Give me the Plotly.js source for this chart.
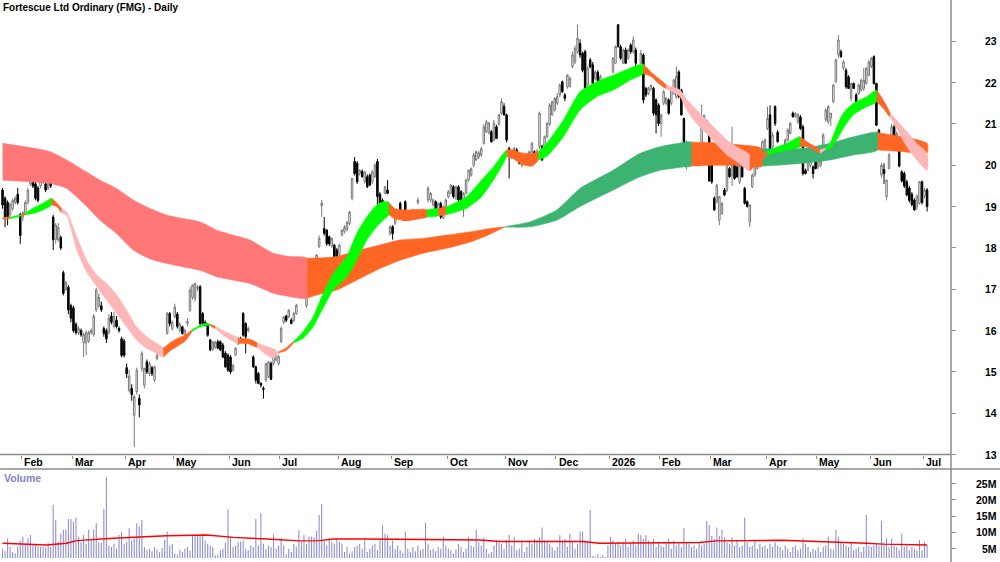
<!DOCTYPE html>
<html><head><meta charset="utf-8">
<script src="https://cdn.plot.ly/plotly-3.0.1.min.js"></script>
<style>html,body{margin:0;padding:0;background:#fff}#chart{width:1000px;height:562px}</style>
</head><body><div id="chart"></div>
<script>
// ---- month axis (trading-day index of first session of each month) ----
const monthLabels = ["Feb","Mar","Apr","May","Jun","Jul","Aug","Sep","Oct","Nov","Dec","2026","Feb","Mar","Apr","May","Jun","Jul"];
const monthStartIdx = [8,28,49,68,90,110,133,154,176,199,219,240,260,280,302,322,343,364];
const priceTicks = [13,14,15,16,17,18,19,20,21,22,23];
const volTicks = [5,10,15,20,25];
const volTickText = ["5M","10M","15M","20M","25M"];

// ---- daily candles, 21 Jan 2025 .. 2 Jul 2026 (one line per month) ----
const open = [
19.40,19.20,19.10,18.80,18.95,19.10,19.30,18.80,
18.75,18.85,19.10,19.55,19.70,19.55,19.45,19.50,19.60,19.55,19.45,19.96,18.75,18.20,18.20,18.25,17.40,17.00,17.05,16.60,
16.55,16.15,15.95,16.00,15.70,15.70,15.75,15.95,15.90,16.50,16.60,16.60,16.05,16.00,15.95,16.35,16.10,16.25,16.05,15.80,15.75,
15.10,14.55,14.60,13.95,14.52,14.36,15.08,14.68,15.24,14.96,15.10,14.80,15.32,15.45,15.49,15.57,15.93,16.41,16.05,
16.33,16.40,16.00,16.09,15.85,16.18,16.49,16.80,16.78,17.02,17.06,16.41,16.20,16.13,15.77,15.55,15.60,15.73,15.73,15.65,15.45,15.40,
15.36,15.05,15.41,15.68,15.80,16.41,16.17,16.00,15.70,15.36,15.12,14.96,14.72,14.60,14.80,14.88,15.20,15.20,15.29,15.20,
15.73,16.20,16.35,16.33,16.25,16.25,16.41,16.95,17.02,16.98,16.60,16.90,16.98,17.18,17.46,18.03,19.02,18.47,18.43,18.27,18.05,18.07,17.95,
17.85,18.31,18.40,18.45,18.59,19.20,20.09,20.05,19.80,19.85,19.60,19.72,19.76,19.60,19.72,20.09,19.30,19.15,19.32,19.40,18.35,
18.51,18.60,18.75,19.08,18.67,19.12,18.83,18.71,18.83,18.79,19.10,18.79,18.75,18.75,19.16,19.16,19.04,19.12,18.92,19.08,18.72,19.00,
19.24,19.32,19.48,19.20,19.48,19.36,18.96,19.32,19.64,19.76,20.00,20.13,20.20,20.25,20.53,20.81,20.78,20.81,20.61,20.93,21.00,21.26,21.42,
21.22,20.41,20.20,20.25,20.37,20.20,20.00,20.21,20.09,20.13,20.13,20.33,20.17,20.45,20.45,20.37,20.69,21.00,21.22,21.34,
21.50,21.70,22.02,21.70,21.90,21.90,22.39,22.50,22.75,22.95,22.71,22.75,21.95,22.55,22.43,22.10,22.25,21.90,21.85,22.06,21.90,
22.05,22.26,22.47,23.40,22.87,22.47,22.79,22.59,22.91,22.75,22.79,22.26,22.47,22.67,21.86,21.74,21.86,21.86,21.58,21.46,
21.01,21.50,21.50,21.58,21.50,21.74,21.66,22.26,21.82,21.13,19.96,20.45,20.13,20.37,20.33,20.41,20.53,20.89,20.93,20.85,
20.29,19.20,19.12,18.67,18.83,19.40,19.40,19.92,19.76,20.00,19.96,19.60,20.00,19.44,19.12,18.63,19.48,19.76,19.92,20.00,20.20,20.33,
20.89,21.22,20.45,21.42,20.80,20.05,20.20,20.33,20.61,20.77,21.26,21.18,21.05,21.17,20.93,19.88,19.88,20.00,19.96,20.09,
19.96,20.00,20.13,21.10,21.05,21.14,21.54,22.02,22.67,22.75,22.35,22.30,22.14,21.62,21.98,21.70,21.74,21.82,21.86,21.98,22.18,
22.39,22.63,21.98,20.85,19.76,19.90,19.24,19.92,20.69,20.93,20.55,20.45,19.84,19.80,19.60,19.45,19.30,19.16,19.00,19.08,19.60,
19.25,19.40];
const high = [
19.45,19.25,19.15,19.10,19.20,19.25,19.45,18.85,
18.90,19.15,19.45,19.93,19.75,19.60,19.50,19.80,19.95,19.60,19.65,20.00,18.80,18.60,18.60,18.30,17.45,17.20,17.10,16.65,
16.60,16.20,16.10,16.05,15.95,16.00,16.00,16.05,16.40,17.03,16.90,16.70,16.10,16.05,16.40,16.45,16.45,16.35,16.10,15.85,15.80,
15.20,15.05,14.70,14.45,15.10,14.45,15.50,15.10,15.30,15.25,15.15,15.15,15.45,15.60,15.60,15.60,16.45,16.45,16.25,
16.65,16.45,16.20,16.12,16.05,16.30,17.05,17.12,17.16,17.10,17.10,16.45,16.25,16.18,15.80,15.75,15.75,15.78,15.76,15.70,15.50,15.45,
15.40,15.20,15.60,15.85,15.85,16.45,16.20,16.10,15.75,15.40,15.15,15.00,14.75,14.65,15.22,15.25,15.25,15.55,15.45,15.40,
16.10,16.35,16.38,16.52,16.30,16.45,16.65,17.20,17.06,17.02,16.90,17.05,17.20,17.40,17.85,18.30,19.16,18.75,18.45,18.30,18.25,18.10,18.00,
18.10,18.45,18.55,18.65,18.90,19.70,20.20,20.10,19.90,19.90,19.85,19.78,19.80,19.88,20.05,20.15,19.35,19.20,19.50,19.64,18.55,
18.55,18.85,18.85,19.12,18.90,19.15,18.85,18.90,18.95,18.90,19.22,18.92,18.85,18.85,19.50,19.35,19.20,19.15,19.10,19.12,19.03,19.20,
19.40,19.55,19.52,19.50,19.52,19.40,19.35,19.68,19.90,19.95,20.30,20.35,20.35,20.45,21.00,21.10,21.05,20.85,21.10,20.98,21.25,21.62,21.50,
21.25,20.45,20.35,20.45,20.42,20.25,20.20,20.25,20.30,20.35,20.57,20.36,20.40,21.30,20.50,20.72,21.05,21.50,21.55,21.65,
21.75,21.98,22.05,21.75,22.20,22.15,22.75,22.90,23.40,23.05,22.75,22.80,22.40,22.60,22.50,22.30,22.30,22.20,22.10,22.10,22.15,
22.10,22.62,22.90,23.42,22.92,22.83,22.85,22.83,22.95,23.12,22.85,22.42,22.79,22.71,21.90,21.90,21.95,21.90,21.62,21.50,
21.25,21.82,21.65,21.62,21.85,22.10,22.39,22.30,21.85,21.15,20.60,20.50,20.40,20.40,20.38,20.45,21.46,21.22,21.10,20.90,
20.33,19.25,19.55,19.26,19.10,19.45,20.12,19.96,20.93,20.05,20.00,20.02,20.05,19.48,19.15,19.04,19.80,20.05,20.20,20.40,20.60,20.65,
21.42,21.45,20.80,21.45,20.85,20.35,20.48,20.65,20.90,21.05,21.30,21.28,21.26,21.22,20.98,19.92,20.10,20.15,20.00,20.12,
20.15,20.12,20.78,21.38,21.45,21.25,21.97,22.58,23.15,22.80,22.55,22.35,22.18,22.00,22.00,21.75,21.98,22.10,22.35,22.38,22.55,
22.62,22.66,22.00,20.88,20.05,20.05,19.66,20.30,21.00,20.98,20.82,20.50,19.88,19.85,19.65,19.50,19.35,19.20,19.30,19.62,19.63,
19.45,19.45];
const low = [
18.95,18.50,18.55,18.75,18.90,19.05,19.05,18.10,
18.65,18.80,19.05,19.50,19.45,19.15,19.10,19.45,19.55,19.35,19.40,19.45,17.95,18.10,18.15,17.95,16.85,16.95,16.40,16.20,
15.95,15.90,15.90,15.85,15.36,15.40,15.70,15.90,15.85,16.45,16.55,16.45,15.85,15.70,15.90,16.15,16.05,16.05,15.95,15.35,15.35,
14.85,14.50,14.30,13.18,14.45,13.90,15.00,14.60,14.95,14.90,14.90,14.75,15.28,15.40,15.45,15.40,15.90,16.10,16.00,
16.30,16.05,15.95,15.90,15.80,16.10,16.45,16.75,16.70,16.95,16.10,16.12,16.10,15.85,15.50,15.50,15.55,15.55,15.50,15.33,15.10,15.00,
14.95,15.00,15.38,15.65,15.70,15.85,15.45,15.95,15.65,15.10,14.72,14.70,14.62,14.35,14.75,14.85,14.80,15.15,15.25,15.15,
15.70,16.15,16.20,16.30,16.15,16.20,16.38,16.90,16.85,16.80,16.55,16.85,16.95,17.15,17.42,18.00,18.75,18.30,18.05,18.05,18.00,17.75,17.70,
17.80,18.28,18.35,18.40,18.55,19.15,19.75,19.55,19.75,19.70,19.55,19.45,19.50,19.55,19.70,19.00,19.05,18.95,19.30,19.30,18.30,
18.20,18.55,18.70,18.80,18.65,18.65,18.65,18.70,18.80,18.75,19.05,18.75,18.72,18.72,19.10,19.10,19.00,18.90,18.90,18.70,18.70,18.95,
19.20,19.30,19.20,19.15,19.10,19.10,18.75,19.30,19.60,19.72,19.95,20.10,20.15,20.20,20.50,20.78,20.75,20.55,20.58,20.65,20.95,21.22,21.20,
20.55,19.68,20.15,20.20,20.15,20.02,19.95,20.05,20.05,20.10,20.10,20.12,20.15,20.40,20.10,20.35,20.65,20.95,21.20,21.30,
21.45,21.65,21.75,21.55,21.85,21.88,22.35,22.45,22.70,22.60,22.25,21.80,21.90,22.35,21.95,22.05,22.00,21.85,21.80,21.82,21.85,
21.95,22.22,22.45,22.85,22.55,22.45,22.45,22.55,22.70,22.70,22.40,22.20,22.45,21.50,21.65,21.70,21.80,21.20,20.77,20.95,
20.69,21.45,21.45,21.22,21.45,21.70,21.60,21.62,21.20,19.96,19.90,20.00,20.10,20.00,20.00,19.98,20.50,20.85,20.90,19.60,
19.55,18.90,19.08,18.55,18.80,19.25,19.35,19.70,19.50,19.65,19.70,19.55,19.70,19.05,18.98,18.51,19.45,19.72,19.90,19.95,20.15,20.30,
20.85,20.25,20.40,20.95,20.55,20.00,20.15,20.30,20.58,20.75,21.15,21.15,21.00,20.85,19.75,19.78,19.85,19.95,19.68,19.90,
19.90,19.95,20.10,21.05,21.00,20.95,21.50,22.00,22.60,22.60,22.30,21.85,21.85,21.55,21.85,21.50,21.70,21.78,21.80,21.95,22.15,
22.35,21.95,20.95,20.37,19.70,19.55,19.15,19.90,20.65,20.50,20.50,19.95,19.58,19.45,19.25,19.10,19.00,18.90,18.92,19.05,19.05,
19.20,18.88];
const close = [
19.04,18.75,18.75,19.05,19.15,19.20,19.10,18.30,
18.85,19.10,19.40,19.76,19.50,19.20,19.15,19.75,19.72,19.40,19.60,19.50,18.20,18.55,18.50,18.00,16.90,17.15,16.50,16.30,
16.00,15.95,16.05,15.90,15.90,15.95,15.95,16.00,16.35,16.98,16.80,16.50,15.93,15.80,16.30,16.20,16.35,16.10,16.00,15.40,15.40,
14.95,14.90,14.45,14.40,15.04,14.20,15.45,15.08,15.00,15.20,14.96,15.12,15.40,15.55,15.57,15.45,16.41,16.17,16.20,
16.57,16.10,16.15,15.93,16.00,16.22,16.98,17.10,17.14,17.05,16.17,16.17,16.12,15.89,15.53,15.72,15.72,15.57,15.53,15.36,15.12,15.04,
15.00,15.15,15.57,15.80,15.72,15.89,15.85,16.05,15.73,15.12,14.80,14.72,14.68,14.58,15.20,15.24,14.82,15.53,15.45,15.37,
16.05,16.33,16.25,16.49,16.17,16.41,16.61,17.15,16.88,16.85,16.85,17.00,17.18,17.38,17.83,18.23,19.08,18.35,18.10,18.10,18.23,17.79,17.75,
18.07,18.43,18.50,18.62,18.87,19.68,19.80,19.60,19.88,19.72,19.84,19.48,19.52,19.84,20.00,19.24,19.08,19.04,19.48,19.32,18.51,
18.35,18.83,18.83,18.83,18.87,18.67,18.67,18.87,18.92,18.87,19.16,18.92,18.83,18.83,19.44,19.32,19.16,18.92,19.08,18.75,19.00,19.16,
19.36,19.52,19.24,19.48,19.16,19.16,19.32,19.64,19.88,19.92,20.25,20.33,20.30,20.40,20.93,21.05,21.02,20.57,21.02,20.65,21.22,21.54,21.22,
20.61,20.25,20.30,20.41,20.17,20.05,20.17,20.09,20.25,20.33,20.53,20.17,20.33,21.26,20.13,20.69,21.01,21.46,21.54,21.62,
21.66,21.94,21.78,21.62,22.18,22.10,22.67,22.83,23.07,22.67,22.30,21.86,22.35,22.38,21.98,22.26,22.05,22.15,22.05,21.86,22.10,
22.02,22.59,22.87,22.87,22.59,22.79,22.47,22.79,22.75,23.03,22.47,22.39,22.71,21.58,21.70,21.86,21.94,21.26,21.22,21.01,
21.22,21.78,21.62,21.26,21.82,22.06,22.15,21.66,21.22,20.25,20.53,20.05,20.37,20.01,20.05,20.00,21.17,21.21,21.09,19.62,
19.60,18.92,19.52,19.24,19.08,19.28,20.09,19.72,20.00,19.68,19.72,20.00,19.72,19.08,19.00,19.04,19.76,20.04,20.17,20.37,20.57,20.61,
21.13,20.35,20.73,21.01,20.57,20.33,20.45,20.61,20.85,21.01,21.18,21.26,21.22,20.89,19.80,19.80,20.09,20.13,19.80,19.92,
20.13,20.09,20.73,21.34,21.42,21.26,21.94,22.55,23.03,22.63,22.50,21.90,21.86,21.98,21.86,21.54,21.94,22.06,22.06,22.35,22.50,
22.59,21.98,20.97,20.61,20.00,19.80,19.64,20.25,20.93,20.53,20.77,19.98,19.62,19.50,19.28,19.15,19.05,18.92,19.25,19.60,19.10,
19.40,19.00];
// daily volume, millions of shares
const volume = [
5.0,4.2,8.2,5.5,4.0,3.6,5.8,7.5,
8.7,6.5,8.2,9.2,6.0,6.2,5.8,5.5,5.6,5.4,6.8,5.5,18.5,13.8,7.2,9.7,10.8,10.8,14.1,14.1,
13.3,14.6,8.7,7.0,9.2,6.5,10.8,7.5,10.8,12.8,7.0,6.8,17.2,27.0,6.0,5.5,6.5,5.0,9.2,10.2,6.5,
7.0,11.3,7.5,8.0,12.8,11.8,13.8,5.5,4.5,5.0,4.2,5.5,4.8,4.0,5.2,7.7,10.3,6.0,6.5,
3.5,3.2,4.8,4.0,5.0,5.5,4.5,9.2,9.2,9.0,9.2,9.7,7.5,6.5,6.0,5.5,3.0,3.2,4.5,5.0,6.8,17.1,
8.7,5.5,6.0,7.0,7.2,7.5,5.0,4.5,6.0,5.5,14.1,6.0,15.9,6.5,5.0,6.0,5.5,9.4,5.0,6.0,
8.2,6.0,3.2,5.0,4.0,6.5,5.5,10.6,7.0,9.2,6.5,8.7,8.7,8.5,10.5,15.4,18.7,7.5,6.0,8.4,7.0,6.5,8.2,
7.0,6.5,4.0,5.5,3.5,4.2,5.5,6.0,6.5,5.0,7.5,4.0,5.0,6.0,6.5,4.5,8.0,12.1,9.7,9.2,6.0,
7.5,5.0,6.0,4.5,3.8,10.3,5.0,4.0,5.5,4.2,6.0,4.5,5.0,13.0,6.5,4.5,5.0,4.2,5.5,5.0,8.7,6.0,
5.0,4.5,3.5,4.8,6.5,5.5,4.0,5.0,8.7,6.0,5.5,10.8,7.0,6.0,8.4,5.0,3.5,4.0,6.0,7.5,7.0,6.5,5.0,
7.7,9.2,6.0,8.5,4.5,5.0,7.0,4.0,5.5,7.5,6.5,8.0,7.5,8.5,11.5,7.5,7.0,6.5,5.5,4.5,
5.5,9.2,7.5,8.0,5.5,9.7,7.0,5.0,6.5,10.3,10.3,7.5,7.0,16.9,2.8,2.5,3.2,2.6,3.0,2.4,6.0,
8.7,7.5,6.5,7.0,6.0,7.0,8.0,5.5,6.5,7.5,6.0,9.7,9.2,8.0,9.2,7.5,6.5,8.0,5.5,7.0,
6.0,5.5,6.5,8.0,5.0,7.5,6.0,6.5,5.5,11.3,7.0,6.5,5.5,6.0,5.0,7.0,6.0,6.5,13.5,12.3,
9.0,8.0,11.5,9.0,10.8,8.5,7.0,6.5,8.5,6.0,7.5,5.5,6.0,14.5,7.0,5.5,6.0,7.5,5.0,6.5,5.5,6.0,
5.0,6.5,5.5,7.0,6.0,5.5,4.5,6.0,5.0,4.0,5.5,6.0,4.5,5.0,8.2,6.5,5.5,4.0,5.0,4.5,
5.5,4.0,5.5,6.0,8.7,5.0,4.5,10.8,8.7,7.0,6.5,6.0,5.5,7.0,4.5,5.0,5.5,4.0,5.5,15.4,6.0,
5.5,6.0,6.5,6.0,13.5,7.0,8.2,5.5,8.0,6.0,5.5,4.5,9.7,5.5,6.0,4.5,5.5,5.0,4.5,7.7,4.5,
7.0,6.0];
// volume moving average
const volMAIdx = [0,17.4,25.3,29.3,43.7,54.3,64.8,80.6,91.1,104.3,117.4,125.3,130.6,143.7,163.5,176.6,188.5,196.4,216,229.1,235.7,275.2,281.8,301.5,308.1,321.3,334.4,341,347.6,365];
const volMAVal = [6.7,6.15,6.7,7.5,8.2,8.7,9.0,9.2,8.5,8.0,7.4,7.5,8.0,8.0,7.9,7.7,7.7,7.2,7.2,7.2,6.7,6.9,7.4,7.7,7.6,7.2,7.0,6.7,6.4,6.15];

// ---- short-term moving-average ribbon (upper / lower edge, trend of following stretch) ----
const fastIdx = [0,3,7.5,9,12,16,19.4,21.5,23.3,25.3,29.3,33.2,37.2,41.1,45.1,49,52.9,56.9,60.8,63.5,66,69,72,74.7,77,80,82,84,88,93,97,100.5,104,107,108.8,112,114.8,118.6,122.6,126.6,130.6,135.9,139.8,143.8,147.7,150.3,152.5,155,160,164,167.5,172,175,177,183.2,188.5,193.8,199,201,205,209,211.5,214.8,221.4,228,234.6,241.1,247.7,253,256,259,262,265,267.5,270,274,278,282,286,289.8,295,298,301.7,305,309.6,314.8,318,322.7,325,326.7,329.3,331.9,335.9,341.2,345.1,347.7,350.4,353,357,360.9,365];
const fastTop = [18.73,18.74,18.80,18.84,18.96,19.08,19.20,19.08,18.95,18.87,18.27,17.70,17.34,17.14,16.86,16.49,16.09,15.85,15.69,15.57,15.70,15.81,15.88,16.01,16.10,16.17,16.15,16.10,15.97,15.81,15.80,15.70,15.62,15.55,15.48,15.58,15.73,15.97,16.33,16.90,17.38,17.79,18.35,18.75,19.04,19.12,19.10,18.95,18.92,18.93,18.92,18.95,18.98,19.04,19.24,19.60,19.96,20.37,20.38,20.30,20.28,20.33,20.53,21.09,21.78,22.02,22.18,22.35,22.45,22.26,22.10,21.94,21.88,21.82,21.60,21.34,21.09,20.85,20.61,20.45,20.25,20.25,20.33,20.42,20.53,20.69,20.55,20.37,20.41,20.53,20.93,21.26,21.50,21.66,21.82,21.58,21.26,21.09,20.81,20.53,20.29];
const fastBot = [18.70,18.71,18.78,18.80,18.83,18.92,19.04,19.00,18.85,18.79,17.95,17.42,17.06,16.74,16.41,16.09,15.77,15.57,15.45,15.36,15.50,15.62,15.74,15.97,16.06,16.12,16.12,16.05,15.85,15.69,15.68,15.60,15.42,15.33,15.46,15.52,15.70,15.81,16.09,16.55,16.98,17.30,17.70,18.19,18.51,18.67,18.80,18.70,18.66,18.70,18.75,18.78,18.80,18.83,18.96,19.20,19.64,20.21,20.18,20.02,19.98,20.13,20.21,20.69,21.34,21.66,21.82,22.06,22.22,22.15,21.98,21.86,21.76,21.66,21.35,21.01,20.77,20.50,20.25,20.09,19.86,20.05,20.25,20.30,20.37,20.45,20.45,20.29,20.39,20.41,20.61,20.89,21.22,21.42,21.54,21.38,21.17,20.89,20.45,20.13,19.88];
const fastTrend = ["mx","up","mx","up","up","up","mx","mx","dn","dn","dn","dn","dn","dn","dn","dn","dn","dn","dn","mx","mx","mx","mx","up","up","up","mx","dn","dn","mx","mx","dn","dn","dn","mx","mx","up","up","up","up","up","up","up","up","up","up","mx","mx","mx","mx","up","mx","up","up","up","up","up","mx","mx","mx","mx","up","up","up","up","up","up","up","mx","mx","mx","dn","dn","dn","dn","dn","dn","dn","dn","dn","mx","mx","up","up","up","mx","mx","dn","up","up","up","up","up","up","mx","mx","dn","dn","dn","dn","dn"];

// ---- long-term moving-average ribbon ----
const slowIdx = [0,18.7,25.3,32,38.5,45,51.6,58,65,71.3,78,84.6,91,97.7,107,113.5,120.3,126.6,131.9,141.1,149,156.9,166.1,175.3,185.9,192.4,198.4,208.2,218.8,228,241.1,251.7,259.6,268.8,272,280.5,290,300,316,326.7,336,345.5,355.6,365];
const slowTop = [20.53,20.33,20.13,19.88,19.64,19.44,19.16,18.96,18.79,18.71,18.63,18.43,18.31,18.19,17.87,17.79,17.75,17.76,17.79,17.95,18.07,18.19,18.23,18.31,18.40,18.47,18.51,18.63,18.92,19.44,19.88,20.29,20.45,20.55,20.56,20.55,20.50,20.40,20.41,20.53,20.69,20.79,20.69,20.53];
const slowBot = [19.64,19.56,19.44,19.08,18.67,18.35,17.95,17.74,17.62,17.54,17.46,17.30,17.22,17.14,16.90,16.82,16.79,16.90,16.98,17.26,17.50,17.70,17.87,17.99,18.17,18.33,18.51,18.51,18.67,19.00,19.40,19.72,19.88,19.96,19.98,20.00,20.00,19.98,20.05,20.13,20.25,20.37,20.33,20.29];
const slowTrend = ["dn","dn","dn","dn","dn","dn","dn","dn","dn","dn","dn","dn","dn","dn","dn","dn","mx","mx","mx","mx","mx","mx","mx","mx","mx","mx","up","up","up","up","up","up","up","up","mx","mx","mx","up","up","up","up","mx","mx","mx"];

// ---------------- drawing ----------------
const FONT = "Liberation Sans, Arial, Helvetica, sans-serif";
const PAL = {
  slow: {dn:"#FF7777", mx:"#FF6624", up:"#3CB371"},
  fast: {dn:"#FFB6B6", mx:"#FF6624", up:"#00FF00"}
};
function ribbon(xs, top, bot, trend, pal){
  const out = []; let s = 0;
  for (let k = 1; k < xs.length; k++){
    if (k === xs.length - 1 || trend[k] !== trend[s]){
      const px = [], py = [];
      for (let j = s; j <= k; j++){ px.push(xs[j]); py.push(top[j]); }
      for (let j = k; j >= s; j--){ px.push(xs[j]); py.push(bot[j]); }
      const c = pal[trend[s]];
      out.push({type:"scatter", mode:"lines", x:px, y:py, fill:"toself", fillcolor:c,
        line:{width:0.6, color:c, shape:"spline", smoothing:0.6}, hoverinfo:"skip", showlegend:false, xaxis:"x", yaxis:"y"});
      s = k;
    }
  }
  return out;
}
const idx = open.map((_, i) => i);
const traces = [];
traces.push(...ribbon(slowIdx, slowTop, slowBot, slowTrend, PAL.slow));
traces.push(...ribbon(fastIdx, fastTop, fastBot, fastTrend, PAL.fast));
traces.push({type:"bar", x:idx, y:volume, xaxis:"x", yaxis:"y2", width:0.42,
  marker:{color:"#8C8CD2", line:{width:0}}, hoverinfo:"skip", showlegend:false});
traces.push({type:"scatter", mode:"lines", x:volMAIdx, y:volMAVal, xaxis:"x", yaxis:"y2",
  line:{color:"#FF0000", width:1.4}, hoverinfo:"skip", showlegend:false});
traces.push({type:"candlestick", x:idx, open:open, high:high, low:low, close:close,
  xaxis:"x", yaxis:"y", whiskerwidth:0,
  increasing:{line:{color:"#7A7A7A", width:1}, fillcolor:"#FFFFFF"},
  decreasing:{line:{color:"#000000", width:1}, fillcolor:"#000000"},
  hoverinfo:"skip", showlegend:false});

const W = 1000, H = 562, PR = 951;          // plot right edge in px
const py = v => (H - v) / H;                 // pixel row -> paper y
const px = v => v / PR;                      // pixel col -> paper x
const annotations = [];
annotations.push({text:"<b>Fortescue Ltd Ordinary (FMG) - Daily</b>", xref:"paper", yref:"paper",
  x:px(1), y:py(8), xanchor:"left", yanchor:"middle", showarrow:false,
  font:{family:FONT, size:10, color:"#000"}});
annotations.push({text:"<b>Volume</b>", xref:"paper", yref:"paper", x:px(1.5), y:py(478),
  xanchor:"left", yanchor:"middle", showarrow:false, font:{family:FONT, size:10.5, color:"#8484C6"}});
monthLabels.forEach((m, i) => annotations.push({text:"<b>"+m+"</b>", xref:"x", yref:"paper",
  x:monthStartIdx[i] - 0.5 + 0.2, y:py(462), xanchor:"left", yanchor:"middle", showarrow:false,
  font:{family:FONT, size:10.5, color:"#000"}}));
priceTicks.forEach(v => annotations.push({text:"<b>"+v+"</b>", xref:"paper", yref:"y",
  x:px(999), y:v, xanchor:"right", yanchor:"middle", showarrow:false,
  font:{family:FONT, size:10.5, color:"#000"}}));
volTicks.forEach((v, i) => annotations.push({text:"<b>"+volTickText[i]+"</b>", xref:"paper", yref:"y2",
  x:px(999), y:v, xanchor:"right", yanchor:"middle", showarrow:false,
  font:{family:FONT, size:10.5, color:"#000"}}));

const shapes = [
  {type:"line", xref:"paper", yref:"paper", x0:0, x1:1, y0:py(454.5), y1:py(454.5), line:{color:"#8C8C8C", width:1.5}},
  {type:"line", xref:"paper", yref:"paper", x0:0, x1:px(1000), y0:py(469), y1:py(469), line:{color:"#8C8C8C", width:1.5}},
  {type:"line", xref:"paper", yref:"paper", x0:1, x1:1, y0:0, y1:1, line:{color:"#8C8C8C", width:1.5}}
];

const layout = {
  width:W, height:H, margin:{l:0, r:W-PR, t:0, b:0},
  paper_bgcolor:"#fff", plot_bgcolor:"#fff", showlegend:false, dragmode:false,
  font:{family:FONT, size:10, color:"#000"},
  boxgap:0.15,
  xaxis:{range:[-1, PR/2.533 - 1], showgrid:false, zeroline:false, showticklabels:false,
    tickmode:"array", tickvals:monthStartIdx.map(v => v - 0.5), ticks:"outside", ticklen:3,
    tickcolor:"#8C8C8C", tickwidth:1, anchor:"y", rangeslider:{visible:false}, fixedrange:true},
  yaxis:{domain:[py(454.5), 1], range:[13, 24], side:"right", showgrid:false, zeroline:false,
    showticklabels:false, tickmode:"array", tickvals:priceTicks, ticks:"outside", ticklen:4,
    tickcolor:"#8C8C8C", showline:false, fixedrange:true},
  yaxis2:{domain:[py(558), py(470)], range:[2.15, 29.2], side:"right", showgrid:false, zeroline:false,
    showticklabels:false, tickmode:"array", tickvals:volTicks, ticks:"outside", ticklen:4,
    tickcolor:"#8C8C8C", showline:false, fixedrange:true, anchor:"x"},
  annotations:annotations, shapes:shapes
};
Plotly.newPlot("chart", traces, layout, {staticPlot:true, displayModeBar:false});
</script>
</body></html>
